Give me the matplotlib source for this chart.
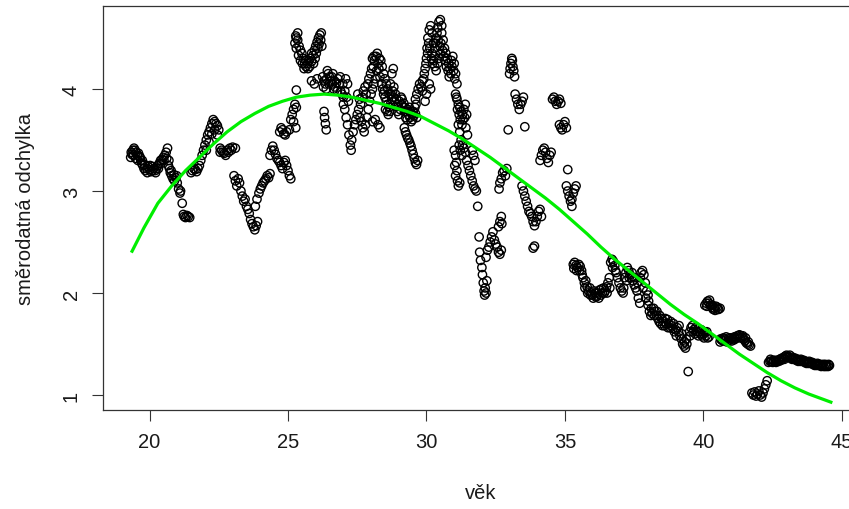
import matplotlib
matplotlib.use("Agg")
import numpy as np
from matplotlib import pyplot as plt

# Rolling standard deviation vs. age
age_a = [19.32, 19.36, 19.40, 19.44, 19.48, 19.52, 19.56, 19.60, 19.64, 19.68, 19.72, 19.76, 19.80, 19.85,
         19.90, 19.95, 20.00, 20.05, 20.10, 20.15, 20.20, 20.25, 20.30, 20.35, 20.40, 20.45, 20.50, 20.55,
         20.60, 20.65]
sd_a = [3.33, 3.36, 3.40, 3.42, 3.40, 3.38, 3.35, 3.37, 3.34, 3.30, 3.27, 3.25, 3.22, 3.20,
        3.22, 3.24, 3.21, 3.19, 3.20, 3.22, 3.20, 3.22, 3.25, 3.27, 3.30, 3.31, 3.33, 3.35,
        3.38, 3.42]

age_b = [20.70, 20.72, 20.75, 20.80, 20.85, 20.90, 20.95, 21.00, 21.05, 21.10, 21.12, 21.18, 21.22, 21.25,
         21.30, 21.35, 21.40, 21.45]
sd_b = [3.30, 3.22, 3.18, 3.15, 3.12, 3.10, 3.13, 3.08, 3.02, 2.98, 3.00, 2.88, 2.77, 2.75,
        2.74, 2.76, 2.75, 2.74]

age_c = [21.50, 21.55, 21.60, 21.65, 21.70, 21.75, 21.80, 21.85, 21.90, 21.95, 22.00, 22.05, 22.10, 22.15,
         22.20, 22.25, 22.30, 22.35, 22.40, 22.45, 22.50, 22.55, 22.60, 22.65, 22.70, 22.80, 22.90, 23.00,
         23.10]
sd_c = [3.18, 3.20, 3.22, 3.21, 3.19, 3.22, 3.25, 3.30, 3.35, 3.40, 3.45, 3.50, 3.55, 3.58,
        3.62, 3.66, 3.70, 3.68, 3.66, 3.64, 3.60, 3.42, 3.40, 3.38, 3.37, 3.40, 3.42, 3.43,
        3.42]

age_d = [23.05, 23.10, 23.15, 23.20, 23.25, 23.30, 23.35, 23.40, 23.45, 23.50, 23.55, 23.60, 23.65, 23.70,
         23.75, 23.80, 23.85, 23.90, 23.82, 23.88, 23.95, 24.00, 24.05, 24.10, 24.15, 24.20, 24.25, 24.30,
         24.35]
sd_d = [3.15, 3.10, 3.05, 3.12, 3.08, 3.00, 2.95, 2.90, 2.92, 2.85, 2.82, 2.78, 2.72, 2.68,
        2.65, 2.62, 2.66, 2.70, 2.85, 2.92, 2.98, 3.02, 3.05, 3.08, 3.10, 3.12, 3.15, 3.13,
        3.17]

age_e = [24.35, 24.40, 24.45, 24.50, 24.55, 24.60, 24.65, 24.70, 24.75, 24.80, 24.85, 24.90, 24.95, 25.00,
         25.05, 25.10, 24.70, 24.75, 24.80, 24.85, 24.90, 24.95, 25.05, 25.10, 25.15, 25.20, 25.25, 25.30,
         25.20, 25.28]
sd_e = [3.35, 3.40, 3.44, 3.40, 3.36, 3.32, 3.30, 3.28, 3.25, 3.22, 3.28, 3.30, 3.25, 3.20,
        3.15, 3.12, 3.58, 3.62, 3.60, 3.56, 3.55, 3.58, 3.60, 3.70, 3.75, 3.80, 3.85, 3.82,
        3.68, 3.62]

age_f = [25.25, 25.30, 25.35, 25.40, 25.45, 25.50, 25.55, 25.60, 25.65, 25.70, 25.75, 25.80, 25.85, 25.90,
         25.95, 26.00, 26.05, 26.10, 26.15, 26.20, 25.30, 25.85, 25.95, 26.05]
sd_f = [4.45, 4.50, 4.48, 4.42, 4.38, 4.35, 4.30, 4.25, 4.22, 4.25, 4.28, 4.30, 4.27, 4.33,
        4.38, 4.42, 4.46, 4.50, 4.53, 4.55, 3.99, 4.08, 4.05, 4.10]

age_g = [26.25, 26.30, 26.35, 26.40, 26.45, 26.50, 26.55, 26.60, 26.65, 26.70, 26.75, 26.80, 26.85, 26.90,
         26.95, 27.00, 26.30, 26.32, 26.35, 26.38, 27.00, 27.05, 27.10, 27.15, 27.20, 27.25, 27.28, 27.30,
         27.35, 27.40, 27.45, 27.50, 27.55, 27.60, 27.65, 27.70, 27.75, 27.80, 27.85, 27.90, 27.95, 28.00,
         28.05, 28.10, 28.15, 28.20, 28.25, 28.30, 28.35, 28.40, 28.45]
sd_g = [4.12, 4.08, 4.05, 4.10, 4.15, 4.12, 4.08, 4.05, 4.00, 4.02, 4.06, 4.10, 4.05, 3.98,
        3.95, 3.92, 3.78, 3.72, 3.66, 3.60, 3.85, 3.80, 3.72, 3.65, 3.55, 3.45, 3.40, 3.50,
        3.58, 3.65, 3.70, 3.75, 3.80, 3.72, 3.68, 3.62, 3.58, 3.65, 3.72, 3.80, 3.88, 3.95,
        4.00, 4.05, 4.10, 4.18, 4.25, 4.30, 4.28, 4.22, 4.15]

age_h = [28.05, 28.10, 28.50, 28.55, 28.60, 28.65, 28.70, 28.75, 28.80, 28.45, 28.50, 28.55, 28.60, 28.65,
         28.70, 28.75, 28.80, 28.85, 28.90, 28.95, 29.00, 29.05, 29.10, 29.15, 29.20, 29.25, 29.30, 29.35,
         29.40, 29.45, 29.50, 29.55, 29.60, 29.65, 29.20, 29.24, 29.28, 29.32, 29.36, 29.40, 29.44, 29.48,
         29.52, 29.56, 29.60, 29.64, 29.68]
sd_h = [4.30, 4.32, 4.10, 4.05, 4.00, 3.95, 4.05, 4.15, 4.20, 3.95, 3.92, 3.88, 3.85, 3.82,
        3.85, 3.90, 3.92, 3.88, 3.83, 3.78, 3.75, 3.80, 3.85, 3.82, 3.78, 3.72, 3.70, 3.75,
        3.72, 3.68, 3.70, 3.74, 3.76, 3.72, 3.62, 3.58, 3.55, 3.52, 3.50, 3.47, 3.44, 3.40,
        3.36, 3.32, 3.28, 3.26, 3.30]

age_i = [29.60, 29.65, 29.70, 29.75, 29.80, 29.85, 29.90, 29.95, 30.00, 30.02, 30.05, 30.10, 30.15, 30.20,
         30.25, 30.30, 30.35, 30.40, 30.45, 30.50, 30.55, 30.55, 30.60, 30.65, 30.70, 30.75, 30.80, 30.85,
         30.90, 30.95, 31.00, 31.05, 31.10, 30.20, 30.25, 30.30, 30.35, 30.40, 30.45, 30.50]
sd_i = [3.90, 3.95, 4.00, 4.05, 4.02, 3.98, 4.10, 4.20, 4.30, 4.40, 4.50, 4.58, 4.62, 4.55,
        4.45, 4.40, 4.50, 4.60, 4.66, 4.68, 4.62, 4.55, 4.48, 4.40, 4.35, 4.30, 4.25, 4.20,
        4.28, 4.32, 4.25, 4.15, 4.05, 4.35, 4.28, 4.22, 4.18, 4.25, 4.30, 4.35]

age_j = [31.05, 31.10, 31.15, 31.20, 31.25, 31.30, 31.35, 31.40, 31.45, 31.15, 31.20, 31.25, 31.30, 31.00,
         31.05, 31.08, 31.10, 31.12, 31.15, 31.20, 31.35, 31.40, 31.45, 31.50, 31.55, 31.60, 31.65, 31.70,
         31.75, 31.80, 31.65, 31.70, 31.75]
sd_j = [3.95, 3.90, 3.85, 3.82, 3.78, 3.75, 3.80, 3.85, 3.75, 3.65, 3.58, 3.50, 3.45, 3.40,
        3.35, 3.28, 3.20, 3.10, 3.05, 3.08, 3.42, 3.38, 3.30, 3.25, 3.20, 3.15, 3.10, 3.05,
        3.02, 3.00, 3.40, 3.35, 3.30]

age_k = [31.85, 31.90, 31.92, 31.95, 32.00, 32.02, 32.05, 32.08, 32.10, 32.12, 32.15, 32.18, 32.15, 32.20,
         32.25, 32.30, 32.35, 32.40, 32.45, 32.50, 32.55, 32.60, 32.65, 32.70, 32.60, 32.65, 32.70, 32.72,
         32.62, 32.65, 32.70, 32.75, 32.80, 32.85, 32.90]
sd_k = [2.85, 2.55, 2.40, 2.32, 2.25, 2.18, 2.10, 2.02, 1.98, 2.05, 2.00, 2.12, 2.35, 2.42,
        2.45, 2.50, 2.55, 2.60, 2.52, 2.48, 2.45, 2.40, 2.38, 2.42, 2.65, 2.70, 2.75, 2.68,
        3.02, 3.08, 3.12, 3.18, 3.20, 3.15, 3.22]

age_l = [33.00, 33.02, 33.05, 33.08, 33.10, 33.12, 33.15, 33.18, 33.20, 33.25, 33.30, 33.35, 33.40, 33.45,
         33.50, 32.95, 33.55, 33.45, 33.50, 33.55, 33.60, 33.65, 33.70, 33.75, 33.80, 33.85, 33.90, 33.95,
         34.00, 34.05, 34.10, 34.15, 33.90, 33.85, 34.10, 34.15, 34.20, 34.25, 34.30, 34.35, 34.40, 34.45,
         34.50, 34.55, 34.60, 34.65, 34.70, 34.75, 34.80, 34.85, 34.80, 34.85, 34.90, 34.95, 35.00, 35.05,
         35.10, 35.05, 35.10, 35.15, 35.20, 35.25, 35.30, 35.35, 35.40, 35.25]
sd_l = [4.15, 4.20, 4.25, 4.30, 4.28, 4.22, 4.18, 4.12, 3.95, 3.90, 3.85, 3.80, 3.85, 3.88,
        3.92, 3.60, 3.63, 3.05, 3.00, 2.95, 2.90, 2.85, 2.80, 2.78, 2.75, 2.70, 2.66, 2.70,
        2.75, 2.80, 2.82, 2.75, 2.46, 2.44, 3.30, 3.35, 3.40, 3.42, 3.38, 3.32, 3.28, 3.35,
        3.38, 3.90, 3.92, 3.88, 3.85, 3.88, 3.90, 3.86, 3.65, 3.62, 3.60, 3.65, 3.68, 3.62,
        3.21, 3.05, 3.00, 2.95, 2.90, 2.92, 2.98, 3.02, 3.05, 2.85]

age_m = [35.30, 35.35, 35.40, 35.45, 35.50, 35.55, 35.60, 35.65, 35.70, 35.75, 35.80, 35.85, 35.90, 35.95,
         36.00, 36.05, 36.10, 36.15, 36.20, 36.25, 36.30, 36.35, 36.40, 36.45, 36.50, 36.55, 36.60, 36.65,
         36.70, 36.75, 36.80, 36.85, 36.90, 36.95, 37.00, 37.05, 37.10, 37.15, 37.20, 37.25, 37.30, 37.35,
         37.40, 37.45, 37.50, 37.55, 37.60, 37.65, 37.70, 37.75, 37.80, 37.85, 37.90, 37.95, 38.00]
sd_m = [2.28, 2.30, 2.27, 2.25, 2.28, 2.26, 2.22, 2.15, 2.10, 2.12, 2.06, 2.02, 2.05, 2.00,
        1.98, 2.02, 2.00, 1.97, 2.00, 2.03, 1.98, 2.00, 2.05, 2.02, 2.06, 2.10, 2.15, 2.30,
        2.33, 2.31, 2.27, 2.20, 2.15, 2.10, 2.05, 2.02, 2.00, 2.15, 2.20, 2.25, 2.22, 2.18,
        2.15, 2.12, 2.08, 2.05, 2.02, 1.95, 1.90, 2.20, 2.22, 2.18, 2.10, 2.02, 1.98]

age_n = [38.00, 38.05, 38.10, 38.15, 38.20, 38.25, 38.30, 38.35, 38.40, 38.45, 38.50, 38.55, 38.60, 38.65,
         38.70, 38.75, 38.80, 38.85, 38.90, 38.95, 39.00, 39.05, 39.10, 39.15, 39.20, 39.25, 39.30, 39.35,
         39.40, 39.45, 39.50, 39.55, 39.60, 39.65, 39.70, 39.75, 39.80, 39.85, 39.90, 39.95, 40.00, 40.05,
         40.10, 40.15, 40.20]
sd_n = [1.88, 1.82, 1.78, 1.80, 1.85, 1.82, 1.78, 1.75, 1.72, 1.70, 1.75, 1.72, 1.68, 1.70,
        1.74, 1.70, 1.66, 1.68, 1.65, 1.62, 1.64, 1.66, 1.62, 1.58, 1.55, 1.50, 1.48, 1.46,
        1.50, 1.23, 1.62, 1.66, 1.68, 1.64, 1.60, 1.62, 1.65, 1.62, 1.60, 1.58, 1.60, 1.62,
        1.58, 1.56, 1.57]

age_o = [40.05, 40.10, 40.15, 40.20, 40.25, 40.30, 40.35, 40.40, 40.45, 40.50, 40.55, 40.60, 40.60, 40.65,
         40.70, 40.75, 40.80, 40.85, 40.90, 40.95, 41.00, 41.05, 41.10, 41.15, 41.20, 41.25, 41.30, 41.35,
         41.40, 41.45, 41.50, 41.55, 41.60, 41.65, 41.70]
sd_o = [1.88, 1.90, 1.92, 1.90, 1.88, 1.86, 1.84, 1.85, 1.87, 1.86, 1.84, 1.85, 1.52, 1.54,
        1.53, 1.55, 1.54, 1.52, 1.53, 1.55, 1.56, 1.55, 1.54, 1.55, 1.56, 1.58, 1.59, 1.58,
        1.56, 1.55, 1.53, 1.51, 1.50, 1.49, 1.48]

age_p = [41.75, 41.80, 41.85, 41.90, 41.95, 42.00, 42.05, 42.10, 42.15, 42.20, 42.25, 42.30]
sd_p = [1.02, 1.00, 1.03, 0.99, 1.01, 1.04, 1.00, 0.98, 1.02, 1.06, 1.10, 1.14]

age_q = [42.35, 42.40, 42.45, 42.50, 42.55, 42.60, 42.65, 42.70, 42.75, 42.80, 42.85, 42.90, 42.95, 43.00,
         43.05, 43.10, 43.15, 43.20, 43.25, 43.30, 43.35, 43.40, 43.45, 43.50, 43.55, 43.60, 43.65, 43.70,
         43.75, 43.80, 43.85, 43.90, 43.95, 44.00, 44.05, 44.10, 44.15, 44.20, 44.25, 44.30, 44.35, 44.40,
         44.45, 44.50, 44.55]
sd_q = [1.32, 1.33, 1.33, 1.32, 1.33, 1.34, 1.33, 1.34, 1.35, 1.34, 1.35, 1.37, 1.38, 1.39,
        1.38, 1.37, 1.36, 1.35, 1.36, 1.35, 1.34, 1.35, 1.34, 1.33, 1.34, 1.33, 1.32, 1.33,
        1.32, 1.31, 1.32, 1.31, 1.30, 1.31, 1.30, 1.29, 1.30, 1.29, 1.28, 1.29, 1.28, 1.30,
        1.29, 1.28, 1.29]

# extra readings where the reference clusters are dense
age_r = [19.34, 19.42, 19.50, 19.58, 19.66, 19.74, 19.82, 19.92, 20.02, 20.12, 20.22, 20.32, 20.42, 20.52,
         20.62, 20.68, 20.78, 20.88, 20.98, 22.05, 22.15, 22.25, 22.35, 22.45, 22.55, 22.75, 22.85, 22.95]
sd_r = [3.38, 3.35, 3.32, 3.30, 3.33, 3.30, 3.26, 3.18, 3.25, 3.24, 3.18, 3.22, 3.27, 3.30,
        3.32, 3.25, 3.20, 3.16, 3.15, 3.40, 3.48, 3.56, 3.60, 3.55, 3.38, 3.35, 3.38, 3.40]

age_s = [25.30, 25.38, 25.45, 25.52, 25.58, 25.65, 25.72, 25.78, 25.85, 25.92, 25.98, 26.02, 26.08, 26.12,
         25.35, 25.28, 26.18, 26.22, 26.28, 26.38, 26.48, 26.58, 26.68, 26.78, 26.88, 26.98, 27.05, 27.12,
         27.18, 26.42, 26.62, 27.08, 27.15]
sd_s = [4.40, 4.33, 4.28, 4.25, 4.20, 4.28, 4.20, 4.22, 4.35, 4.25, 4.30, 4.35, 4.40, 4.44,
        4.55, 4.52, 4.48, 4.42, 4.02, 4.00, 4.05, 4.12, 4.08, 3.98, 4.12, 4.05, 3.98, 3.92,
        3.88, 4.18, 4.15, 4.10, 4.05]

age_t = [27.52, 27.58, 27.62, 27.68, 27.72, 27.78, 27.82, 27.88, 27.92, 27.98, 28.02, 28.08, 28.12, 28.18,
         28.22, 28.28, 28.32, 28.38, 28.42, 28.48, 28.52, 28.58, 28.62, 28.68, 28.72, 28.78, 28.82, 28.88,
         28.92, 28.98, 29.02, 29.08, 29.12, 29.18, 29.22, 29.28, 29.32, 29.38, 29.42, 29.48, 29.52, 29.58,
         29.62, 28.25, 28.32, 28.15, 28.05]
sd_t = [3.95, 3.90, 3.85, 3.92, 3.98, 4.02, 3.95, 4.05, 4.10, 4.15, 4.20, 4.22, 4.28, 4.32,
        4.35, 4.20, 4.12, 4.05, 4.00, 3.98, 3.80, 3.78, 3.75, 3.78, 3.95, 3.98, 4.02, 3.95,
        3.90, 3.85, 3.88, 3.92, 3.90, 3.86, 3.82, 3.78, 3.80, 3.82, 3.78, 3.75, 3.78, 3.82,
        3.85, 3.65, 3.62, 3.70, 3.68]

age_u = [29.85, 29.92, 29.98, 30.04, 30.08, 30.12, 30.18, 30.22, 30.28, 30.32, 30.38, 30.42, 30.48, 30.52,
         30.58, 30.62, 30.68, 30.72, 30.78, 30.82, 30.88, 30.92, 30.98, 31.02, 30.10, 30.15, 30.00, 29.95,
         31.08, 31.12, 31.18, 31.22, 31.28, 31.32, 31.38, 31.42, 31.48, 31.18, 31.22, 31.28, 31.05, 31.02]
sd_u = [4.08, 4.15, 4.25, 4.35, 4.45, 4.40, 4.30, 4.25, 4.32, 4.45, 4.55, 4.48, 4.42, 4.45,
        4.38, 4.32, 4.28, 4.22, 4.18, 4.12, 4.15, 4.22, 4.18, 4.10, 4.05, 4.00, 3.95, 3.88,
        3.92, 3.80, 3.75, 3.70, 3.65, 3.70, 3.72, 3.62, 3.55, 3.45, 3.40, 3.35, 3.15, 3.25]

age_v = [35.32, 35.42, 35.52, 35.62, 35.72, 35.82, 35.92, 36.02, 36.12, 36.22, 36.32, 36.42, 36.52, 36.62,
         36.72, 36.82, 37.12, 37.22, 37.32, 37.42, 37.52, 37.62, 37.72, 37.82, 37.92]
sd_v = [2.24, 2.22, 2.22, 2.18, 2.05, 2.00, 1.98, 1.95, 1.96, 1.95, 2.04, 2.00, 2.00, 2.05,
        2.25, 2.22, 2.05, 2.12, 2.15, 2.20, 2.15, 2.10, 2.15, 2.05, 1.95]

age_w = [38.02, 38.12, 38.22, 38.32, 38.42, 38.52, 38.62, 38.72, 38.82, 38.92, 39.02, 39.12, 39.22, 39.32,
         39.38, 39.52, 39.62, 39.72, 39.82, 39.92, 40.02, 40.12, 40.62, 40.72, 40.82, 40.92, 41.02, 41.12,
         41.22, 41.32, 41.42, 41.52, 41.62, 40.12, 40.22, 40.32, 40.42, 40.52]
sd_w = [1.92, 1.85, 1.78, 1.82, 1.78, 1.68, 1.75, 1.66, 1.72, 1.70, 1.58, 1.68, 1.60, 1.52,
        1.55, 1.58, 1.62, 1.66, 1.58, 1.64, 1.56, 1.62, 1.55, 1.56, 1.57, 1.56, 1.53, 1.57,
        1.58, 1.56, 1.58, 1.56, 1.52, 1.87, 1.93, 1.88, 1.83, 1.84]

age_z = [42.42, 42.52, 42.62, 42.72, 42.82, 42.92, 43.02, 43.12, 43.22, 43.32, 43.42, 43.52, 43.62, 43.72,
         43.82, 43.92, 44.02, 44.12, 44.22, 44.32, 44.42, 44.52]
sd_z = [1.35, 1.34, 1.32, 1.33, 1.36, 1.35, 1.37, 1.39, 1.37, 1.36, 1.33, 1.35, 1.34, 1.31,
        1.33, 1.32, 1.29, 1.31, 1.30, 1.30, 1.28, 1.30]

# smooth fitted curve (green)
fit_age = [19.37, 19.8, 20.3, 20.8, 21.3, 21.8, 22.3, 22.8, 23.3, 23.8, 24.3, 24.8, 25.3, 25.8,
           26.3, 26.8, 27.3, 27.8, 28.3, 28.8, 29.3, 29.8, 30.3, 30.8, 31.3, 31.8, 32.3, 32.8,
           33.3, 33.8, 34.3, 34.8, 35.3, 35.8, 36.3, 36.8, 37.3, 37.8, 38.3, 38.8, 39.3, 39.8,
           40.3, 40.8, 41.3, 41.8, 42.3, 42.8, 43.3, 43.8, 44.3, 44.6]
fit_sd = [2.41, 2.64, 2.88, 3.05, 3.20, 3.33, 3.46, 3.58, 3.68, 3.76, 3.83, 3.88, 3.92, 3.94,
          3.95, 3.94, 3.92, 3.89, 3.86, 3.82, 3.78, 3.73, 3.66, 3.59, 3.51, 3.42, 3.33, 3.23,
          3.13, 3.03, 2.93, 2.82, 2.70, 2.58, 2.45, 2.33, 2.22, 2.11, 2.00, 1.89, 1.79, 1.70,
          1.60, 1.50, 1.40, 1.31, 1.22, 1.14, 1.07, 1.01, 0.96, 0.93]

age = np.concatenate([age_a, age_b, age_c, age_d, age_e, age_f, age_g, age_h, age_i,
                      age_j, age_k, age_l, age_m, age_n, age_o, age_p, age_q,
                      age_r, age_s, age_t, age_u, age_v, age_w, age_z])
sd = np.concatenate([sd_a, sd_b, sd_c, sd_d, sd_e, sd_f, sd_g, sd_h, sd_i,
                     sd_j, sd_k, sd_l, sd_m, sd_n, sd_o, sd_p, sd_q,
                     sd_r, sd_s, sd_t, sd_u, sd_v, sd_w, sd_z])

plt.rcParams["font.family"] = ["Liberation Sans", "DejaVu Sans"]

fig = plt.figure(figsize=(8.49, 5.10), dpi=100)
ax = fig.add_axes([103 / 849, 99 / 510, 755 / 849, 404 / 510])

ax.scatter(age, sd, s=36, facecolors="none", edgecolors="black", linewidths=1.0, zorder=2)
ax.plot(fit_age, fit_sd, color="#00ee00", lw=2.3, zorder=3)

ax.set_xlim(18.32, 45.58)
ax.set_ylim(0.853, 4.814)
ax.set_xticks([20, 25, 30, 35, 40, 45])
ax.set_yticks([1, 2, 3, 4])
ax.tick_params(direction="out", length=8, width=0.8, color="#333333",
               labelsize=14.5, labelcolor="#1a1a1a", pad=8)
for lbl in ax.get_yticklabels():
    lbl.set_rotation(90)
    lbl.set_va("center")
for sp in ax.spines.values():
    sp.set_color("#333333")
    sp.set_linewidth(0.9)

ax.set_xlabel("věk", fontsize=14.5, color="#1a1a1a")
ax.set_ylabel("směrodatná odchylka", fontsize=14.5, color="#1a1a1a")
ax.xaxis.set_label_coords(0.5, -0.18)
ax.yaxis.set_label_coords(-0.09, 0.5)

fig.savefig("out.png", dpi=100)
